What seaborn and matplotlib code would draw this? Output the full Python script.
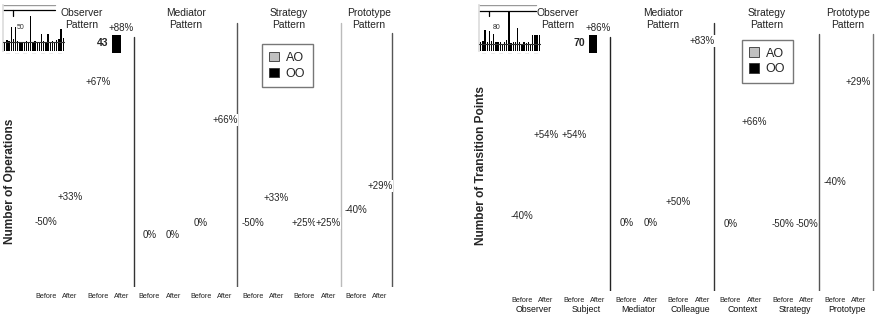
import numpy as np
import pandas as pd
import matplotlib
matplotlib.use("Agg")
import matplotlib.pyplot as plt
import matplotlib.transforms as mtransforms
from matplotlib.patches import Patch
import seaborn as sns

sns.set_theme(style="white")
plt.rcParams['font.family'] = ['Liberation Sans', 'DejaVu Sans']

# --- data ---
phases = ["Before", "After"] * 7
roles = ["Observer", "Subject", "Mediator", "Colleague", "Context", "Strategy", "Prototype"]
patterns = ["Observer\nPattern", "Mediator\nPattern", "Strategy\nPattern", "Prototype\nPattern"]
series = ["AO", "OO"]

# change labels and label heights (0-100 scale) for each Before/After slot
ops_changes = ["-50%", "+33%", "+67%", "+88%", "0%", "0%", "0%", "+66%",
               "-50%", "+33%", "+25%", "+25%", "-40%", "+29%"]
ops_heights = [23.0, 31.9, 72.7, 91.8, 18.4, 18.4, 22.7, 59.2,
               22.7, 31.6, 22.7, 22.7, 27.3, 35.8]
trans_changes = ["-40%", "+54%", "+54%", "+86%", "0%", "0%", "+50%", "+83%",
                 "0%", "+66%", "-50%", "-50%", "-40%", "+29%"]
trans_heights = [26.2, 54.5, 54.5, 92.0, 23.8, 23.8, 31.1, 87.4,
                 23.4, 59.1, 23.4, 23.4, 38.1, 73.1]

# the one visible OO bar (value label, bottom, top)
ops_bar = ("43", 83.0, 89.4)
trans_bar = ("70", 83.2, 89.5)

# thumbnail bars at top-left of each panel
ops_thumb = [9, 11, 10, 23, 12, 23, 10, 9, 8, 9, 10, 8, 34, 9,
             10, 8, 9, 17, 10, 8, 17, 9, 10, 9, 11, 12, 22, 13]
trans_thumb = [20, 22, 45, 20, 43, 22, 38, 20, 20, 20, 15, 20, 25, 88,
               18, 20, 20, 50, 20, 15, 20, 18, 20, 15, 35, 35, 35, 35]

fig = plt.figure(figsize=(8.8, 3.2), dpi=100)


def draw_thumb(rect, values, ymax, ref, ref_label, line_end):
    axi = fig.add_axes(rect)
    df = pd.DataFrame({"slot": np.arange(len(values)), "value": values})
    sns.barplot(data=df, x="slot", y="value", color="black", saturation=1,
                width=0.6, errorbar=None, linewidth=0, edgecolor="black", ax=axi)
    base = min(values) * 1.05
    axi.axhline(base, color="#333333", lw=0.8, zorder=3)
    axi.axhline(ymax * 0.99, xmax=line_end, color="#999999", lw=1.0)
    axi.axhline(ref, xmax=line_end, color="black", lw=0.9)
    axi.plot([4, 4], [ref, ref * 0.86], color="black", lw=0.9)
    axi.text(5.5, ref * 0.55, ref_label, fontsize=5, color="#333333")
    axi.set_xlim(-0.8, len(values) - 0.2)
    axi.set_ylim(0, ymax)
    axi.set_xlabel("")
    axi.set_ylabel("")
    axi.set_yticks([])
    ticks = np.arange(1.5, len(values), 4)
    axi.set_xticks(ticks)
    axi.set_xticklabels(["—"] * len(ticks), fontsize=3, color="#bbbbbb")
    axi.tick_params(length=0, pad=0.5)
    for s in ["right", "bottom", "top"]:
        axi.spines[s].set_visible(False)
    axi.spines["left"].set_color("#dddddd")
    axi.patch.set_alpha(0)


def draw_panel(rect, xmax, changes, heights, bar, ylabel, label_xy, seps,
               legend_xy, show_roles):
    ax = fig.add_axes(rect)
    pos = []
    for g in range(7):
        pos += [g - 0.23, g + 0.23]
    ax.set_xlim(-0.75, xmax)
    ax.set_ylim(0, 100)
    ax.set_xticks(pos)
    ax.set_xticklabels(phases, fontsize=5.2, color="#222222")
    ax.tick_params(axis="x", length=0, pad=4)
    ax.set_yticks([])
    sns.despine(ax=ax, left=True, bottom=True)
    ax.set_ylabel(ylabel, fontsize=8.6, fontweight="bold")
    ax.yaxis.set_label_coords(*label_xy)

    # pattern separators
    for x, top, col in seps:
        ax.axvline(x, ymin=0, ymax=top, color=col, lw=1.0, zorder=1)

    # change labels
    for x, lab, h in zip(pos, changes, heights):
        ax.text(x, h, lab, ha="center", va="center", fontsize=7, zorder=3,
                bbox=dict(facecolor="white", edgecolor="none", pad=0.4))

    # the visible OO bar
    label, lo, hi = bar
    ax.bar(1.13, hi - lo, bottom=lo, width=0.17, color="black",
           edgecolor="black", linewidth=0, zorder=2)
    ax.text(0.98, (lo + hi) / 2 + 0.5, label, ha="right", va="center",
            fontsize=7.5, fontweight="bold")

    tr = mtransforms.blended_transform_factory(ax.transData, ax.transAxes)
    for x, name in zip([0.45, 2.47, 4.47, 6.02], patterns):
        ax.text(x, 0.952, name, transform=tr, ha="center", va="center",
                fontsize=7.4, color="#222222", linespacing=1.25)
    if show_roles:
        for g, name in enumerate(roles):
            ax.text(g, -0.063, name, transform=tr, ha="center", va="center",
                    fontsize=6.3, color="#111111")

    handles = [Patch(facecolor=c, edgecolor="#333333", lw=0.6)
               for c in ["#c0c0c0", "#000000"]]
    ax.legend(handles, series, loc="upper left", bbox_to_anchor=legend_xy,
              fontsize=9, frameon=True, fancybox=False, edgecolor="#555555",
              handlelength=0.8, handleheight=0.8, handletextpad=0.5,
              borderpad=0.6, labelspacing=0.3, borderaxespad=0)
    return ax


# left panel: Number of Operations
draw_panel([19.2 / 880, 33 / 320, 410.8 / 880, 282 / 320], 7.2,
           ops_changes, ops_heights, ops_bar, "Number of Operations",
           (-0.008, 0.376),
           [(1.47, 0.887, "#333333"), (3.47, 0.936, "#555555"),
            (5.47, 0.936, "#bbbbbb"), (6.47, 0.90, "#555555")],
           (0.591, 0.861), False)
draw_thumb([3 / 880, 269 / 320, 62 / 880, 46 / 320], ops_thumb, 45, 40, "50", 0.84)

# right panel: Number of Transition Points
draw_panel([495 / 880, 29 / 320, 382.9 / 880, 286 / 320], 6.6,
           trans_changes, trans_heights, trans_bar, "Number of Transition Points",
           (-0.022, 0.44),
           [(1.46, 0.888, "#222222"), (3.46, 0.937, "#333333"),
            (5.47, 0.90, "#555555"), (6.51, 0.90, "#777777")],
           (0.645, 0.878), True)
draw_thumb([479 / 880, 269 / 320, 62 / 880, 46 / 320], trans_thumb, 100, 88, "80", 0.92)

fig.savefig("out.png", dpi=100)
